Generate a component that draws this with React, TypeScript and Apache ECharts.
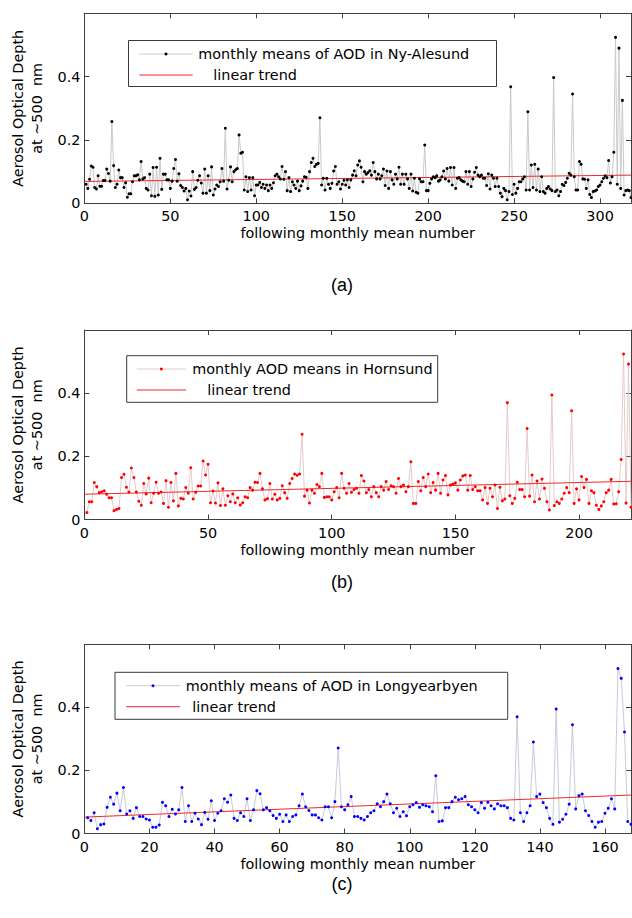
import React, { useEffect, useRef } from 'react';
import * as echarts from 'echarts';

// ---------- data ----------
const nyAlesundAOD = [
  0.060, 0.047, 0.076, 0.118, 0.114, 0.050, 0.045, 0.087, 0.054, 0.054,
  0.072, 0.072, 0.108, 0.094, 0.070, 0.258, 0.119, 0.050, 0.060, 0.105,
  0.081, 0.081, 0.050, 0.065, 0.019, 0.030, 0.030, 0.068, 0.087, 0.087,
  0.090, 0.074, 0.132, 0.077, 0.081, 0.047, 0.042, 0.092, 0.024, 0.113,
  0.022, 0.114, 0.026, 0.142, 0.044, 0.092, 0.092, 0.074, 0.074, 0.047,
  0.070, 0.110, 0.138, 0.070, 0.093, 0.056, 0.050, 0.039, 0.047, 0.011,
  0.039, 0.023, 0.100, 0.044, 0.050, 0.073, 0.087, 0.064, 0.032, 0.108,
  0.032, 0.087, 0.040, 0.115, 0.026, 0.045, 0.058, 0.053, 0.068, 0.110,
  0.070, 0.237, 0.045, 0.073, 0.115, 0.068, 0.100, 0.106, 0.110, 0.216,
  0.158, 0.161, 0.042, 0.084, 0.037, 0.081, 0.042, 0.081, 0.024, 0.058,
  0.058, 0.066, 0.050, 0.060, 0.047, 0.058, 0.040, 0.058, 0.047, 0.065,
  0.087, 0.092, 0.084, 0.077, 0.116, 0.076, 0.100, 0.040, 0.081, 0.037,
  0.068, 0.058, 0.047, 0.070, 0.040, 0.055, 0.070, 0.084, 0.082, 0.047,
  0.100, 0.129, 0.142, 0.116, 0.123, 0.126, 0.270, 0.058, 0.079, 0.042,
  0.079, 0.060, 0.047, 0.063, 0.102, 0.116, 0.060, 0.068, 0.045, 0.060,
  0.073, 0.058, 0.074, 0.050, 0.074, 0.089, 0.103, 0.087, 0.121, 0.134,
  0.114, 0.068, 0.100, 0.092, 0.097, 0.103, 0.089, 0.129, 0.100, 0.077,
  0.092, 0.077, 0.087, 0.108, 0.056, 0.102, 0.047, 0.100, 0.074, 0.060,
  0.092, 0.077, 0.114, 0.060, 0.092, 0.060, 0.092, 0.077, 0.047, 0.092,
  0.039, 0.079, 0.035, 0.032, 0.077, 0.068, 0.068, 0.184, 0.040, 0.040,
  0.063, 0.077, 0.084, 0.081, 0.087, 0.070, 0.074, 0.084, 0.102, 0.077,
  0.110, 0.070, 0.113, 0.058, 0.113, 0.047, 0.079, 0.081, 0.074, 0.070,
  0.068, 0.100, 0.060, 0.100, 0.053, 0.077, 0.098, 0.113, 0.089, 0.084,
  0.089, 0.079, 0.079, 0.056, 0.093, 0.045, 0.089, 0.079, 0.053, 0.079,
  0.053, 0.032, 0.021, 0.047, 0.040, 0.011, 0.037, 0.368, 0.028, 0.060,
  0.032, 0.047, 0.068, 0.068, 0.077, 0.084, 0.042, 0.289, 0.042, 0.121,
  0.050, 0.123, 0.042, 0.108, 0.037, 0.084, 0.037, 0.032, 0.047, 0.053,
  0.045, 0.040, 0.397, 0.037, 0.042, 0.024, 0.037, 0.060, 0.056, 0.066,
  0.079, 0.095, 0.089, 0.345, 0.084, 0.042, 0.042, 0.132, 0.123, 0.077,
  0.076, 0.047, 0.074, 0.028, 0.018, 0.037, 0.039, 0.042, 0.053, 0.058,
  0.068, 0.079, 0.087, 0.081, 0.135, 0.064, 0.084, 0.161, 0.524, 0.060,
  0.490, 0.047, 0.325, 0.026, 0.040, 0.042, 0.040, 0.018,
];

const hornsundAOD = [
  0.022, 0.056, 0.056, 0.117, 0.104, 0.085, 0.088, 0.091, 0.080, 0.069,
  0.069, 0.028, 0.032, 0.035, 0.133, 0.143, 0.102, 0.087, 0.163, 0.133,
  0.087, 0.058, 0.045, 0.114, 0.081, 0.131, 0.053, 0.083, 0.118, 0.083,
  0.087, 0.051, 0.123, 0.039, 0.117, 0.059, 0.146, 0.043, 0.067, 0.065,
  0.101, 0.083, 0.164, 0.065, 0.086, 0.106, 0.106, 0.185, 0.141, 0.175,
  0.053, 0.090, 0.052, 0.116, 0.044, 0.097, 0.045, 0.075, 0.056, 0.081,
  0.053, 0.069, 0.046, 0.053, 0.072, 0.069, 0.101, 0.093, 0.118, 0.117,
  0.146, 0.097, 0.062, 0.066, 0.114, 0.065, 0.080, 0.062, 0.067, 0.107,
  0.085, 0.067, 0.114, 0.130, 0.144, 0.140, 0.144, 0.270, 0.074, 0.093,
  0.052, 0.093, 0.083, 0.111, 0.104, 0.146, 0.070, 0.072, 0.072, 0.062,
  0.088, 0.101, 0.069, 0.146, 0.099, 0.083, 0.114, 0.086, 0.095, 0.099,
  0.083, 0.139, 0.122, 0.085, 0.095, 0.072, 0.104, 0.085, 0.072, 0.104,
  0.093, 0.120, 0.095, 0.107, 0.104, 0.083, 0.130, 0.104, 0.109, 0.088,
  0.104, 0.183, 0.051, 0.051, 0.120, 0.091, 0.133, 0.104, 0.144, 0.085,
  0.117, 0.093, 0.146, 0.083, 0.125, 0.139, 0.078, 0.109, 0.112, 0.116,
  0.093, 0.125, 0.138, 0.141, 0.093, 0.139, 0.095, 0.104, 0.091, 0.091,
  0.062, 0.101, 0.051, 0.099, 0.072, 0.109, 0.035, 0.102, 0.059, 0.065,
  0.370, 0.075, 0.051, 0.067, 0.118, 0.095, 0.095, 0.072, 0.288, 0.074,
  0.141, 0.056, 0.122, 0.065, 0.128, 0.099, 0.056, 0.030, 0.394, 0.044,
  0.056, 0.051, 0.065, 0.083, 0.101, 0.085, 0.344, 0.051, 0.097, 0.062,
  0.136, 0.101, 0.127, 0.051, 0.091, 0.085, 0.045, 0.032, 0.043, 0.056,
  0.085, 0.093, 0.127, 0.049, 0.050, 0.088, 0.190, 0.524, 0.052, 0.492,
  0.039,
];

const longyearbyenAOD = [
  0.050, 0.041, 0.066, 0.015, 0.028, 0.030, 0.083, 0.115, 0.093, 0.128,
  0.072, 0.146, 0.062, 0.072, 0.048, 0.082, 0.054, 0.054, 0.046, 0.043,
  0.020, 0.020, 0.027, 0.099, 0.088, 0.054, 0.077, 0.062, 0.075, 0.146,
  0.038, 0.088, 0.038, 0.064, 0.046, 0.028, 0.067, 0.045, 0.104, 0.041,
  0.064, 0.072, 0.110, 0.099, 0.122, 0.048, 0.041, 0.066, 0.054, 0.110,
  0.041, 0.075, 0.136, 0.126, 0.075, 0.082, 0.072, 0.057, 0.048, 0.061,
  0.038, 0.059, 0.038, 0.054, 0.059, 0.088, 0.125, 0.085, 0.073, 0.059,
  0.059, 0.050, 0.043, 0.085, 0.085, 0.050, 0.101, 0.271, 0.085, 0.075,
  0.091, 0.117, 0.054, 0.054, 0.048, 0.043, 0.054, 0.066, 0.072, 0.094,
  0.085, 0.101, 0.125, 0.094, 0.066, 0.080, 0.054, 0.069, 0.056, 0.085,
  0.091, 0.098, 0.083, 0.091, 0.088, 0.085, 0.069, 0.183, 0.038, 0.040,
  0.082, 0.082, 0.101, 0.115, 0.107, 0.110, 0.117, 0.091, 0.085, 0.075,
  0.066, 0.098, 0.080, 0.099, 0.088, 0.078, 0.094, 0.088, 0.088, 0.082,
  0.048, 0.043, 0.370, 0.066, 0.038, 0.066, 0.088, 0.290, 0.117, 0.125,
  0.098, 0.082, 0.048, 0.029, 0.395, 0.036, 0.045, 0.061, 0.093, 0.345,
  0.078, 0.120, 0.125, 0.072, 0.057, 0.038, 0.020, 0.036, 0.038, 0.064,
  0.080, 0.110, 0.078, 0.523, 0.492, 0.322, 0.038, 0.029,
];

// linear trend: value at x = 0 and at the last month
const trendNyAlesund = [0.069, 0.089];
const trendHornsund = [0.080, 0.121];
const trendLongyearbyen = [0.052, 0.122];

const xAxisMax = [318, 221, 168];
const xTickStep = [50, 50, 20];
const yAxisMax = 0.6;
const yTickStep = 0.2;

const seriesNames = [
  'monthly means of AOD in Ny-Alesund',
  'monthly AOD means in Hornsund',
  'monthly means of AOD in Longyearbyen',
];
const trendName = 'linear trend';
const panelLabels = ['(a)', '(b)', '(c)'];
const xAxisTitle = 'following monthly mean number';
const yAxisTitle = 'Aerosol Optical Depth\nat ~500  nm';

// ---------- styling / layout ----------
const FONT = '"DejaVu Sans", Verdana, sans-serif';
const FS = 14.4;
const AX = '#404040';
const TREND = '#f02a2a';

const panels = [
  {
    data: nyAlesundAOD, trend: trendNyAlesund, top: 13.3, height: 190,
    line: '#c9c9c9', dot: '#000000',
    box: { x: 128.5, y: 40.5, w: 368, h: 46 }, lx1: 139.3, lx2: 192.7, r1: 54, r2: 75, t1: 198.3, t2: 213.3,
    label: { x: 342, y: 285 },
  },
  {
    data: hornsundAOD, trend: trendHornsund, top: 330, height: 189.5,
    line: '#e6caca', dot: '#ff0000',
    box: { x: 126.7, y: 355.7, w: 311, h: 46.6 }, lx1: 136.7, lx2: 186, r1: 369, r2: 390, t1: 192.3, t2: 207.3,
    label: { x: 342, y: 582 },
  },
  {
    data: longyearbyenAOD, trend: trendLongyearbyen, top: 644.3, height: 189.2,
    line: '#cacada', dot: '#0000ff',
    box: { x: 115, y: 672.3, w: 392.7, h: 47 }, lx1: 126, lx2: 180, r1: 685.7, r2: 706.7, t1: 185.7, t2: 192.3,
    label: { x: 342, y: 884 },
  },
];

function buildOption() {
  const grid: any[] = [];
  const xAxis: any[] = [];
  const yAxis: any[] = [];
  const series: any[] = [];
  const graphic: any[] = [];
  const labelStyle = { color: '#000', fontSize: FS, fontFamily: FONT };

  panels.forEach((p, i) => {
    grid.push({ left: 82, width: 549, top: p.top, height: p.height });
    const common = {
      type: 'value', gridIndex: i, min: 0, max: xAxisMax[i], interval: xTickStep[i],
      splitLine: { show: false },
      axisLine: { show: true, onZero: false, lineStyle: { color: AX, width: 1 } },
      axisTick: { show: true, inside: true, length: 5, lineStyle: { color: AX } },
    };
    xAxis.push({
      ...common, position: 'bottom',
      axisLabel: { ...labelStyle, margin: 6, showMaxLabel: false },
      name: xAxisTitle, nameLocation: 'middle', nameGap: 23,
      nameTextStyle: labelStyle,
    });
    xAxis.push({ ...common, position: 'top', axisLabel: { show: false } });
    const ycommon = {
      type: 'value', gridIndex: i, min: 0, max: yAxisMax, interval: yTickStep,
      splitLine: { show: false },
      axisLine: { show: true, onZero: false, lineStyle: { color: AX, width: 1 } },
      axisTick: { show: true, inside: true, length: 5, lineStyle: { color: AX } },
    };
    yAxis.push({
      ...ycommon, position: 'left',
      axisLabel: { ...labelStyle, margin: 4, showMaxLabel: false },
      name: yAxisTitle, nameLocation: 'middle', nameRotate: 90, nameGap: 31,
      nameTextStyle: { ...labelStyle, lineHeight: 19.3 },
    });
    yAxis.push({ ...ycommon, position: 'right', axisLabel: { show: false } });

    series.push({
      type: 'line', name: seriesNames[i], xAxisIndex: 2 * i, yAxisIndex: 2 * i,
      data: p.data.map((v, k) => [k + 1, v]),
      symbol: 'circle', symbolSize: 3, showSymbol: true,
      lineStyle: { color: p.line, width: 1 },
      itemStyle: { color: p.dot },
      silent: true, emphasis: { disabled: true },
    });
    series.push({
      type: 'line', name: trendName, xAxisIndex: 2 * i, yAxisIndex: 2 * i,
      data: [[0, p.trend[0]], [xAxisMax[i], p.trend[1]]],
      symbol: 'none', lineStyle: { color: TREND, width: 1 },
      silent: true, emphasis: { disabled: true }, z: 3,
    });

    // legend box
    graphic.push({
      type: 'rect', z: 100,
      shape: { x: p.box.x, y: p.box.y, width: p.box.w, height: p.box.h },
      style: { fill: '#fff', stroke: '#3a3a3a', lineWidth: 1 },
    });
    graphic.push({
      type: 'line', z: 101, shape: { x1: p.lx1, y1: p.r1, x2: p.lx2, y2: p.r1 },
      style: { stroke: p.line, lineWidth: 1 },
    });
    graphic.push({
      type: 'circle', z: 102, shape: { cx: (p.lx1 + p.lx2) / 2, cy: p.r1, r: 1.5 },
      style: { fill: p.dot },
    });
    graphic.push({
      type: 'text', z: 102, x: p.t1, y: p.r1,
      style: { text: seriesNames[i], fontSize: FS, fontFamily: FONT, fill: '#000', verticalAlign: 'middle', align: 'left' },
    });
    graphic.push({
      type: 'line', z: 101, shape: { x1: p.lx1, y1: p.r2, x2: p.lx2, y2: p.r2 },
      style: { stroke: TREND, lineWidth: 1 },
    });
    graphic.push({
      type: 'text', z: 102, x: p.t2, y: p.r2,
      style: { text: trendName, fontSize: FS, fontFamily: FONT, fill: '#000', verticalAlign: 'middle', align: 'left' },
    });
    graphic.push({
      type: 'text', z: 102, x: p.label.x, y: p.label.y,
      style: { text: panelLabels[i], fontSize: 18, fontFamily: '"Liberation Sans", Arial, sans-serif', fill: '#000', verticalAlign: 'middle', align: 'center' },
    });
  });

  return { animation: false, backgroundColor: '#fff', grid, xAxis, yAxis, series, graphic };
}

export default function App() {
  const ref = useRef<HTMLDivElement>(null);
  useEffect(() => {
    document.body.style.margin = '0';
    if (!ref.current) return;
    const chart = echarts.init(ref.current, null, { renderer: 'svg' });
    chart.setOption(buildOption() as any);
    return () => chart.dispose();
  }, []);
  return <div ref={ref} style={{ width: 632, height: 918 }} />;
}
